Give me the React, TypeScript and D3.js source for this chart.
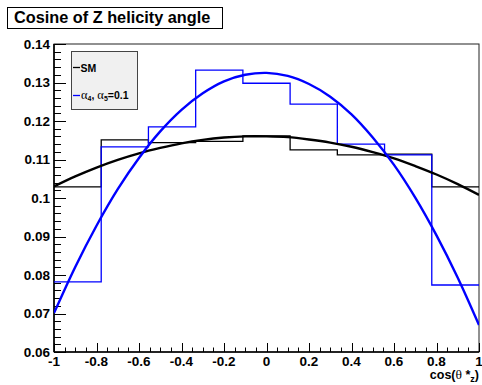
import React, { useEffect, useRef } from "react";
import * as d3 from "d3";

// histogram contents, 9 bins over cos(theta*_z) in [-1, 1]
const binEdges = [-1, -0.7778, -0.5556, -0.3333, -0.1111, 0.1111, 0.3333, 0.5556, 0.7778, 1];
const smHist = [0.1029, 0.1151, 0.1144, 0.1147, 0.1161, 0.1125, 0.1112, 0.1114, 0.1029];
const a45Hist = [0.0782, 0.1133, 0.1185, 0.1332, 0.1298, 0.1244, 0.114, 0.1112, 0.0774];

// fitted curves
const fitX = [-1, -0.9, -0.8, -0.7, -0.6, -0.5, -0.4, -0.3, -0.2, -0.1, 0, 0.1, 0.2, 0.3, 0.4, 0.5, 0.6, 0.7, 0.8, 0.9, 1];
const smFit = [0.103, 0.1056, 0.1079, 0.1099, 0.1116, 0.113, 0.1142, 0.1151, 0.1157, 0.116, 0.116, 0.1158, 0.1152, 0.1144, 0.1133, 0.1119, 0.1103, 0.1083, 0.1061, 0.1036, 0.1008];
const a45Fit = [0.0701, 0.0821, 0.0928, 0.1023, 0.1104, 0.1173, 0.1229, 0.1272, 0.1303, 0.132, 0.1325, 0.1317, 0.1296, 0.1263, 0.1217, 0.1157, 0.1086, 0.1001, 0.0903, 0.0793, 0.067];

const xTicks = [-1, -0.8, -0.6, -0.4, -0.2, 0, 0.2, 0.4, 0.6, 0.8, 1];
const yTicks = [0.06, 0.07, 0.08, 0.09, 0.1, 0.11, 0.12, 0.13, 0.14];

const App = () => {
  const svgRef = useRef<SVGSVGElement>(null);

  useEffect(() => {
    const width = 482;
    const height = 385;
    const frame = { left: 54, right: 479, top: 44, bottom: 352 };
    const font = "'Liberation Sans', Arial, sans-serif";

    const root = d3.select(svgRef.current);
    root.selectAll("*").remove();
    root.attr("width", width).attr("height", height);

    const svg = root.append("g");
    svg.append("rect").attr("width", width).attr("height", height).attr("fill", "#fff");

    const x = d3.scaleLinear().domain([-1, 1]).range([frame.left, frame.right]);
    const y = d3.scaleLinear().domain([0.06, 0.14]).range([frame.bottom, frame.top]);

    root
      .append("defs")
      .append("clipPath")
      .attr("id", "plotClip")
      .append("rect")
      .attr("x", frame.left)
      .attr("y", frame.top)
      .attr("width", frame.right - frame.left)
      .attr("height", frame.bottom - frame.top);

    // --- Frame ---
    svg
      .append("rect")
      .attr("x", frame.left)
      .attr("y", frame.top)
      .attr("width", frame.right - frame.left)
      .attr("height", frame.bottom - frame.top)
      .attr("fill", "none")
      .attr("stroke", "#222")
      .attr("stroke-width", 1);

    // --- Y axis ticks ---
    const yMinor = d3.range(0, 41).map((i) => 0.06 + i * 0.002);
    svg
      .append("g")
      .selectAll("line")
      .data(yMinor)
      .join("line")
      .attr("x1", frame.left)
      .attr("x2", (d, i) => frame.left + (i % 5 === 0 ? 12 : 7))
      .attr("y1", (d) => Math.round(y(d)) + 0.5)
      .attr("y2", (d) => Math.round(y(d)) + 0.5)
      .attr("stroke", "#000")
      .attr("stroke-width", 1);

    svg
      .append("g")
      .selectAll("text")
      .data(yTicks)
      .join("text")
      .attr("x", frame.left - 4)
      .attr("y", (d) => y(d))
      .attr("dy", "0.36em")
      .attr("text-anchor", "end")
      .style("font-family", font)
      .style("font-weight", "bold")
      .style("font-size", "13.5px")
      .text((d) => String(d));

    // --- X axis ticks ---
    const xMinor = d3.range(0, 41).map((i) => -1 + i * 0.05);
    svg
      .append("g")
      .selectAll("line")
      .data(xMinor)
      .join("line")
      .attr("x1", (d) => Math.round(x(d)) + 0.5)
      .attr("x2", (d) => Math.round(x(d)) + 0.5)
      .attr("y1", frame.bottom)
      .attr("y2", (d, i) => frame.bottom - (i % 4 === 0 ? 9 : 4.5))
      .attr("stroke", "#000")
      .attr("stroke-width", 1);

    svg
      .append("g")
      .selectAll("text")
      .data(xTicks)
      .join("text")
      .attr("x", (d) => x(d))
      .attr("y", 365.5)
      .attr("text-anchor", "middle")
      .style("font-family", font)
      .style("font-weight", "bold")
      .style("font-size", "13.5px")
      .text((d) => String(d));

    // axis lines on top of ticks
    svg
      .append("line")
      .attr("x1", frame.left)
      .attr("x2", frame.left)
      .attr("y1", frame.top)
      .attr("y2", frame.bottom)
      .attr("stroke", "#000")
      .attr("stroke-width", 1.6);
    svg
      .append("line")
      .attr("x1", frame.left)
      .attr("x2", frame.right)
      .attr("y1", frame.bottom)
      .attr("y2", frame.bottom)
      .attr("stroke", "#000")
      .attr("stroke-width", 1.6);

    // X axis title
    const xTitle = svg
      .append("text")
      .attr("x", frame.right)
      .attr("y", 378.5)
      .attr("text-anchor", "end")
      .style("font-family", font)
      .style("font-weight", "bold")
      .style("font-size", "12.5px");
    xTitle.append("tspan").text("cos(");
    xTitle.append("tspan").style("font-family", "'Liberation Serif', serif").style("font-weight", "normal").style("font-size", "13.5px").text("θ");
    xTitle.append("tspan").text(" *");
    xTitle.append("tspan").attr("dy", 3).style("font-size", "9px").text("z");
    xTitle.append("tspan").attr("dy", -3).text(")");

    // --- Histograms ---
    const plot = svg.append("g").attr("clip-path", "url(#plotClip)");

    const stepLine = d3
      .line<[number, number]>()
      .x((d) => x(d[0]))
      .y((d) => y(d[1]))
      .curve(d3.curveStepAfter);

    const histPoints = (vals: number[]) =>
      binEdges.map((e, i) => [e, vals[Math.min(i, vals.length - 1)]] as [number, number]);

    plot
      .append("path")
      .attr("d", stepLine(histPoints(smHist)))
      .attr("fill", "none")
      .attr("stroke", "#000")
      .attr("stroke-width", 1.3);

    plot
      .append("path")
      .attr("d", stepLine(histPoints(a45Hist)))
      .attr("fill", "none")
      .attr("stroke", "#0000ff")
      .attr("stroke-width", 1.3);

    // --- Fit curves ---
    const smooth = d3
      .line<number>()
      .x((d, i) => x(fitX[i]))
      .y((d) => y(d))
      .curve(d3.curveCatmullRom);

    plot
      .append("path")
      .attr("d", smooth(smFit))
      .attr("fill", "none")
      .attr("stroke", "#000")
      .attr("stroke-width", 2.4);

    plot
      .append("path")
      .attr("d", smooth(a45Fit))
      .attr("fill", "none")
      .attr("stroke", "#0000ff")
      .attr("stroke-width", 2.4);

    // --- Legend ---
    const legend = svg.append("g");
    legend
      .append("rect")
      .attr("x", 71.5)
      .attr("y", 51.5)
      .attr("width", 66)
      .attr("height", 58)
      .attr("fill", "#f0f0f0")
      .attr("stroke", "#444")
      .attr("stroke-width", 1);

    legend
      .append("line")
      .attr("x1", 73)
      .attr("x2", 80)
      .attr("y1", 67.5)
      .attr("y2", 67.5)
      .attr("stroke", "#000")
      .attr("stroke-width", 1.3);
    legend
      .append("text")
      .attr("x", 80.5)
      .attr("y", 71.5)
      .style("font-family", font)
      .style("font-weight", "bold")
      .style("font-size", "10.5px")
      .text("SM");

    legend
      .append("line")
      .attr("x1", 73)
      .attr("x2", 80)
      .attr("y1", 95.5)
      .attr("y2", 95.5)
      .attr("stroke", "#0000ff")
      .attr("stroke-width", 1.3);
    const l2 = legend
      .append("text")
      .attr("x", 81)
      .attr("y", 98.5)
      .style("font-family", font)
      .style("font-weight", "bold")
      .style("font-size", "10.5px");
    l2.append("tspan").style("font-family", "'Liberation Serif', serif").style("font-weight", "normal").style("font-size", "12.5px").text("α");
    l2.append("tspan").attr("dy", 2).style("font-size", "7px").text("4");
    l2.append("tspan").attr("dy", -2).text(", ");
    l2.append("tspan").style("font-family", "'Liberation Serif', serif").style("font-weight", "normal").style("font-size", "12.5px").text("α");
    l2.append("tspan").attr("dy", 2).style("font-size", "7px").text("5");
    l2.append("tspan").attr("dy", -2).text("=0.1");

    // --- Title ---
    svg
      .append("rect")
      .attr("x", 7.5)
      .attr("y", 7.5)
      .attr("width", 215)
      .attr("height", 21)
      .attr("fill", "#fff")
      .attr("stroke", "#000")
      .attr("stroke-width", 1);
    svg
      .append("text")
      .attr("x", 14)
      .attr("y", 23)
      .style("font-family", font)
      .style("font-weight", "bold")
      .style("font-size", "16.3px")
      .text("Cosine of Z helicity angle");
  }, []);

  return (
    <div style={{ position: "absolute", left: 0, top: 0 }}>
      <svg ref={svgRef} style={{ display: "block" }}></svg>
    </div>
  );
};

export default App;
